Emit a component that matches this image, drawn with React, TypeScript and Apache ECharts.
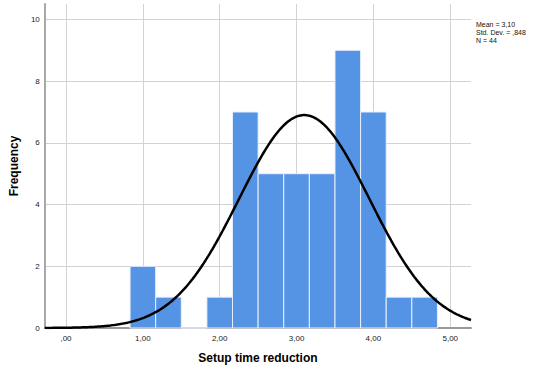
import React, { useEffect, useRef } from "react";
import * as echarts from "echarts";

// Histogram bins (left edges) and counts
const BIN_WIDTH = 1 / 3;
const BIN_STARTS = [5 / 6, 7 / 6, 9 / 6, 11 / 6, 13 / 6, 15 / 6, 17 / 6, 19 / 6, 21 / 6, 23 / 6, 25 / 6, 27 / 6];
const COUNTS = [2, 1, 0, 1, 7, 5, 5, 5, 9, 7, 1, 1];

// Descriptive statistics shown in the legend
const MEAN = 3.1;
const SD = 0.848;
const N = 44;
const STATS_LINES = ["Mean = 3,10", "Std. Dev. = ,848", "N = 44"];

const X_MIN = -0.276;
const X_MAX = 5.27;
const Y_MAX = 10.5;

const FONT = "Liberation Sans, Arial, sans-serif";

function normalCurve(): number[][] {
  const pts: number[][] = [];
  const steps = 300;
  for (let i = 0; i <= steps; i++) {
    const x = X_MIN + ((X_MAX - X_MIN) * i) / steps;
    const z = (x - MEAN) / SD;
    const y = (N * BIN_WIDTH) / (SD * Math.sqrt(2 * Math.PI)) * Math.exp(-0.5 * z * z);
    pts.push([x, y]);
  }
  return pts;
}

export default function App() {
  const ref = useRef<HTMLDivElement>(null);
  useEffect(() => {
    if (!ref.current) return;
    const chart = echarts.init(ref.current, undefined, { renderer: "svg" });
    const barData = BIN_STARTS.map((s, i) => [s, s + BIN_WIDTH, COUNTS[i]]);
    chart.setOption({
      animation: false,
      backgroundColor: "#ffffff",
      grid: { left: 42, right: 64, top: 4, bottom: 44, containLabel: false },
      xAxis: {
        type: "value",
        min: X_MIN,
        max: X_MAX,
        splitNumber: 6,
        name: "Setup time reduction",
        nameLocation: "middle",
        nameGap: 24,
        nameTextStyle: { fontFamily: FONT, fontSize: 12, fontWeight: "bold", color: "#000" },
        axisLine: { show: true, onZero: false, lineStyle: { color: "#999", width: 2 } },
        axisTick: { show: false },
        axisLabel: {
          showMinLabel: false,
          showMaxLabel: false,
          margin: 6,
          fontFamily: FONT,
          fontSize: 8,
          color: "#222",
          formatter: (v: number) => v.toFixed(2).replace(/^0/, "").replace(".", ","),
        },
        splitLine: { show: true, showMinLine: false, showMaxLine: false, lineStyle: { color: "#d2d2d2", width: 1 } },
      },
      yAxis: {
        type: "value",
        min: 0,
        max: Y_MAX,
        interval: 2,
        name: "Frequency",
        nameLocation: "middle",
        nameGap: 20,
        nameTextStyle: { fontFamily: FONT, fontSize: 12, fontWeight: "bold", color: "#000" },
        axisLine: { show: true, onZero: false, lineStyle: { color: "#a8a8a8", width: 2 } },
        axisTick: { show: false },
        axisLabel: { showMaxLabel: false, margin: 5, fontFamily: FONT, fontSize: 8, color: "#222" },
        splitLine: { show: true, showMinLine: false, showMaxLine: false, lineStyle: { color: "#d2d2d2", width: 1 } },
      },
      graphic: [
        {
          type: "text",
          left: 476,
          top: 20,
          style: {
            text: STATS_LINES.join("\n"),
            fontFamily: FONT,
            fontSize: 7,
            lineHeight: 8,
            fill: "#111",
          },
        },
      ],
      series: [
        {
          type: "custom",
          data: barData,
          encode: { x: [0, 1], y: 2 },
          renderItem: (params: any, api: any) => {
            const p0 = api.coord([api.value(0), 0]);
            const p1 = api.coord([api.value(1), api.value(2)]);
            return {
              type: "rect",
              shape: { x: p0[0], y: p1[1], width: p1[0] - p0[0], height: p0[1] - p1[1] },
              style: { fill: "#5594e4", stroke: "#e8f0fb", lineWidth: 1 },
            };
          },
          z: 2,
        },
        {
          type: "line",
          data: normalCurve(),
          showSymbol: false,
          smooth: false,
          lineStyle: { color: "#000", width: 2.5 },
          z: 3,
        },
      ],
    });
    return () => chart.dispose();
  }, []);
  return (
    <div
      ref={ref}
      style={{ position: "fixed", left: 0, top: 0, width: 535, height: 372, background: "#fff" }}
    />
  );
}
